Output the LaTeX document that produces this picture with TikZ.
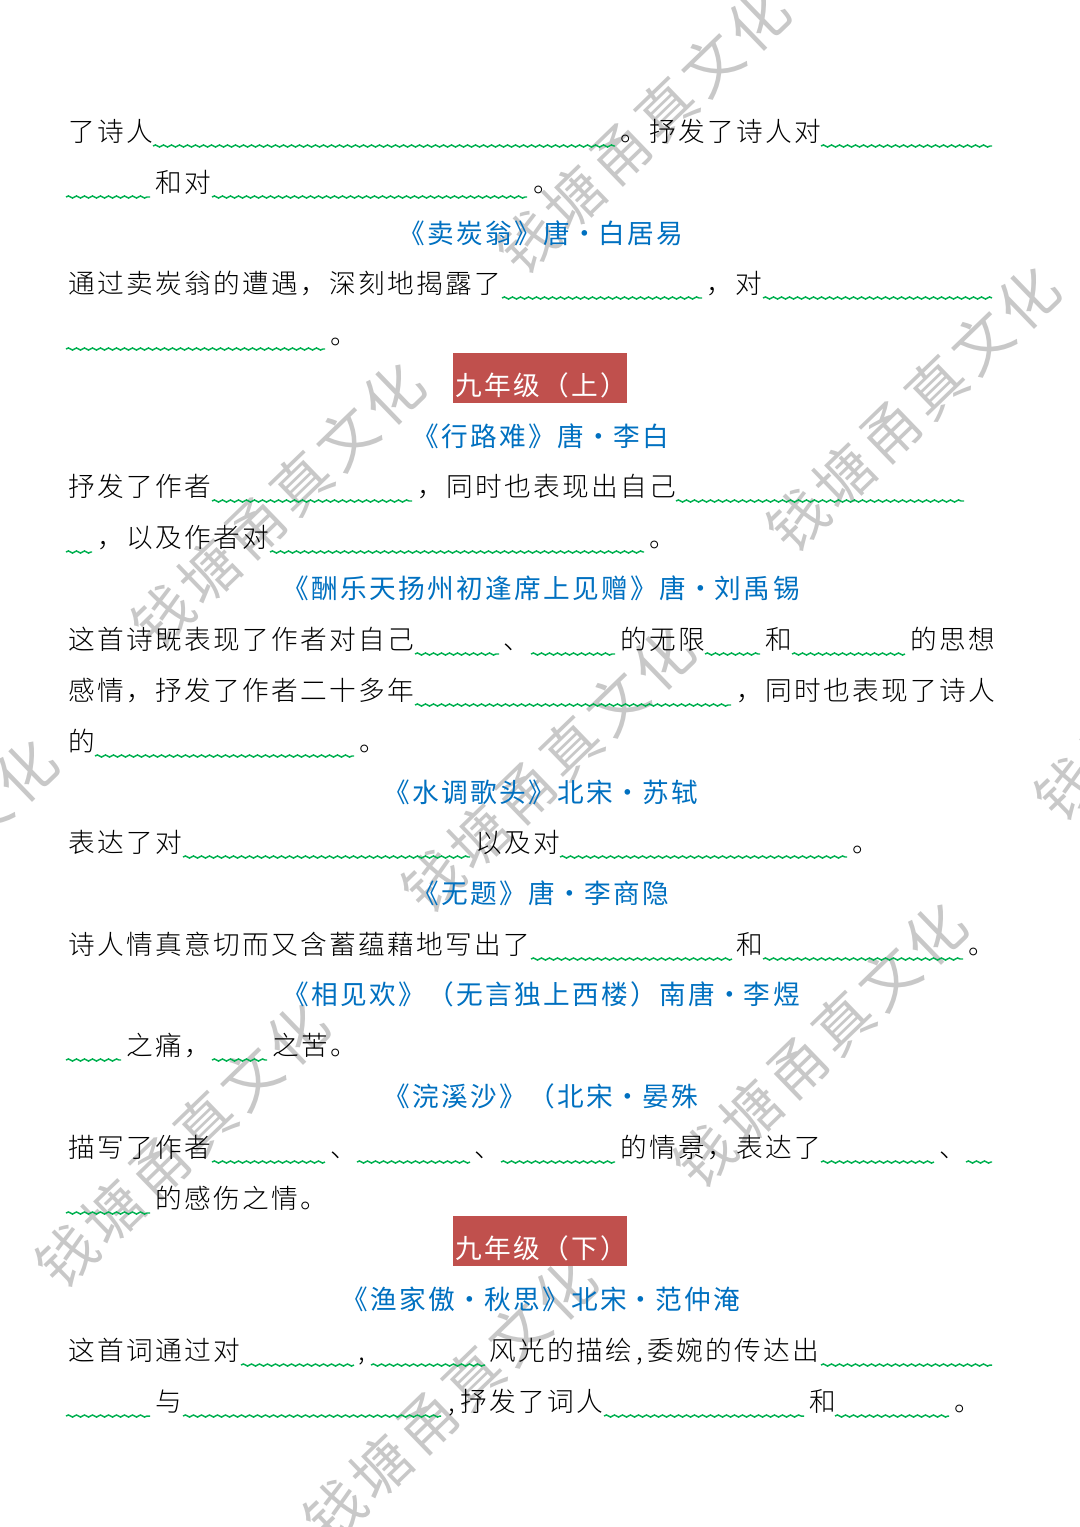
\documentclass[tikz,border=0pt]{standalone}
\usepackage{fontspec}
\setmainfont{Noto Sans CJK SC Light}[LetterSpace=8.75]
\newfontfamily\titlefont{Noto Sans CJK SC}[LetterSpace=8.75]
\newfontfamily\markfont{Noto Sans CJK SC}[LetterSpace=9]
\usetikzlibrary{decorations.pathmorphing}
\definecolor{wavegreen}{HTML}{00B050}
\definecolor{titleblue}{HTML}{0070C0}
\definecolor{gradered}{HTML}{C0504D}
\definecolor{markgray}{HTML}{C8C8C8}
\newcommand{\dotmid}{\makebox[1.0875em]{·}}
\tikzset{
	bodytext/.style={anchor=base west, inner sep=0pt, font=\fontsize{20}{24}\selectfont},
	titletext/.style={anchor=base, inner sep=0pt, text=titleblue, font=\titlefont\fontsize{20}{24}\selectfont},
	gradetext/.style={anchor=base west, inner sep=0pt, text=white, font=\titlefont\fontsize{20}{24}\selectfont},
	wavyline/.style={draw=wavegreen, line width=1.1pt, decorate, decoration={snake, segment length=6pt, amplitude=0.8pt}},
	markword/.style={inner sep=0pt, rotate=44, text=markgray, font=\markfont\fontsize{44}{50}\selectfont},
}
\begin{document}
\begin{tikzpicture}[x=0.75pt,y=-0.75pt]
	\useasboundingbox (0,0) rectangle (1080,1527);

	% watermark
	\node (M1) at (643,131) [markword] {钱塘甬真文化};
	\node (M2) at (913,409) [markword] {钱塘甬真文化};
	\node (M3) at (278,505) [markword] {钱塘甬真文化};
	\node (M4) at (548,770) [markword] {钱塘甬真文化};
	\node (M5) at (182,1145) [markword] {钱塘甬真文化};
	\node (M6) at (820,1045) [markword] {钱塘甬真文化};
	\node (M7) at (450,1400) [markword] {钱塘甬真文化};
	\node (M8) at (-89,882) [markword] {钱塘甬真文化};
	\node (M9) at (1181,678) [markword] {钱塘甬真文化};

	% grade boxes
	\fill [gradered] (453,353) rectangle (627,403);
	\fill [gradered] (453,1216) rectangle (627,1266);
	\node (G1) at (455,395) [gradetext] {九年级（上）};
	\node (G2) at (455,1258) [gradetext] {九年级（下）};

	% titles
	\node (T1) at (541,243) [titletext] {《卖炭翁》唐\dotmid 白居易};
	\node (T2) at (541,446) [titletext] {《行路难》唐\dotmid 李白};
	\node (T3) at (541,598) [titletext] {《酬乐天扬州初逢席上见赠》唐\dotmid 刘禹锡};
	\node (T4) at (541,802) [titletext] {《水调歌头》北宋\dotmid 苏轼};
	\node (T5) at (541,903) [titletext] {《无题》唐\dotmid 李商隐};
	\node (T6) at (541,1004) [titletext] {《相见欢》（无言独上西楼）南唐\dotmid 李煜};
	\node (T7) at (541,1106) [titletext] {《浣溪沙》（北宋\dotmid 晏殊};
	\node (T8) at (541,1309) [titletext] {《渔家傲\dotmid 秋思》北宋\dotmid 范仲淹};

	% body text
	\node (A1) at (68,141) [bodytext] {了诗人};
	\node (A2) at (620,141) [bodytext] {。抒发了诗人对};
	\node (A3) at (155,192) [bodytext] {和对};
	\node (A4) at (533,192) [bodytext] {。};
	\node (B1) at (68,293) [bodytext] {通过卖炭翁的遭遇，深刻地揭露了};
	\node (B2) at (706,293) [bodytext] {，对};
	\node (B3) at (330,344) [bodytext] {。};
	\node (C1) at (68,496) [bodytext] {抒发了作者};
	\node (C2) at (417,496) [bodytext] {，同时也表现出自己};
	\node (C3) at (97,547) [bodytext] {，以及作者对};
	\node (C4) at (649,547) [bodytext] {。};
	\node (D1) at (68,649) [bodytext] {这首诗既表现了作者对自己};
	\node (D2) at (503,649) [bodytext] {、};
	\node (D3) at (620,649) [bodytext] {的无限};
	\node (D4) at (765,649) [bodytext] {和};
	\node (D5) at (910,649) [bodytext] {的思想};
	\node (D6) at (68,700) [bodytext] {感情，抒发了作者二十多年};
	\node (D7) at (736,700) [bodytext] {，同时也表现了诗人};
	\node (D8) at (68,751) [bodytext] {的};
	\node (D9) at (359,751) [bodytext] {。};
	\node (E1) at (68,852) [bodytext] {表达了对};
	\node (E2) at (475,852) [bodytext] {以及对};
	\node (E3) at (852,852) [bodytext] {。};
	\node (F1) at (68,954) [bodytext] {诗人情真意切而又含蓄蕴藉地写出了};
	\node (F2) at (736,954) [bodytext] {和};
	\node (F3) at (968,954) [bodytext] {。};
	\node (H1) at (126,1055) [bodytext] {之痛，};
	\node (H2) at (272,1055) [bodytext] {之苦。};
	\node (J1) at (68,1157) [bodytext] {描写了作者};
	\node (J2) at (330,1157) [bodytext] {、};
	\node (J3) at (474,1157) [bodytext] {、};
	\node (J4) at (620,1157) [bodytext] {的情景，表达了};
	\node (J5) at (939,1157) [bodytext] {、};
	\node (J6) at (155,1208) [bodytext] {的感伤之情。};
	\node (K1) at (68,1360) [bodytext] {这首词通过对};
	\node (K2) at (358,1360) [bodytext] {,};
	\node (K3) at (489,1360) [bodytext] {风光的描绘};
	\node (K4) at (636,1360) [bodytext] {,};
	\node (K5) at (647,1360) [bodytext] {委婉的传达出};
	\node (K6) at (155,1411) [bodytext] {与};
	\node (K7) at (448,1411) [bodytext] {,};
	\node (K8) at (460,1411) [bodytext] {抒发了词人};
	\node (K9) at (809,1411) [bodytext] {和};
	\node (K10) at (954,1411) [bodytext] {。};

	% blanks, as y: x1/x2 pairs
	\foreach \ya/\xa/\xb in {146/153/615, 146/821/992, 197/66/150, 197/212/527,
		298/502/702, 298/763/992, 349/66/325,
		501/212/412, 501/676/964, 552/66/92, 552/270/644,
		654/415/499, 654/531/615, 654/705/760, 654/792/905,
		705/415/731, 756/95/354,
		857/183/470, 857/560/847,
		959/531/732, 959/763/963,
		1060/66/121, 1060/212/267,
		1162/212/325, 1162/357/470, 1162/501/615, 1162/821/934, 1162/966/992,
		1213/66/150,
		1365/241/354, 1365/371/485, 1365/821/992,
		1416/66/150, 1416/183/441, 1416/604/804, 1416/835/949}
		\draw [wavyline] (\xa,\ya) -- (\xb,\ya);
\end{tikzpicture}
\end{document}
